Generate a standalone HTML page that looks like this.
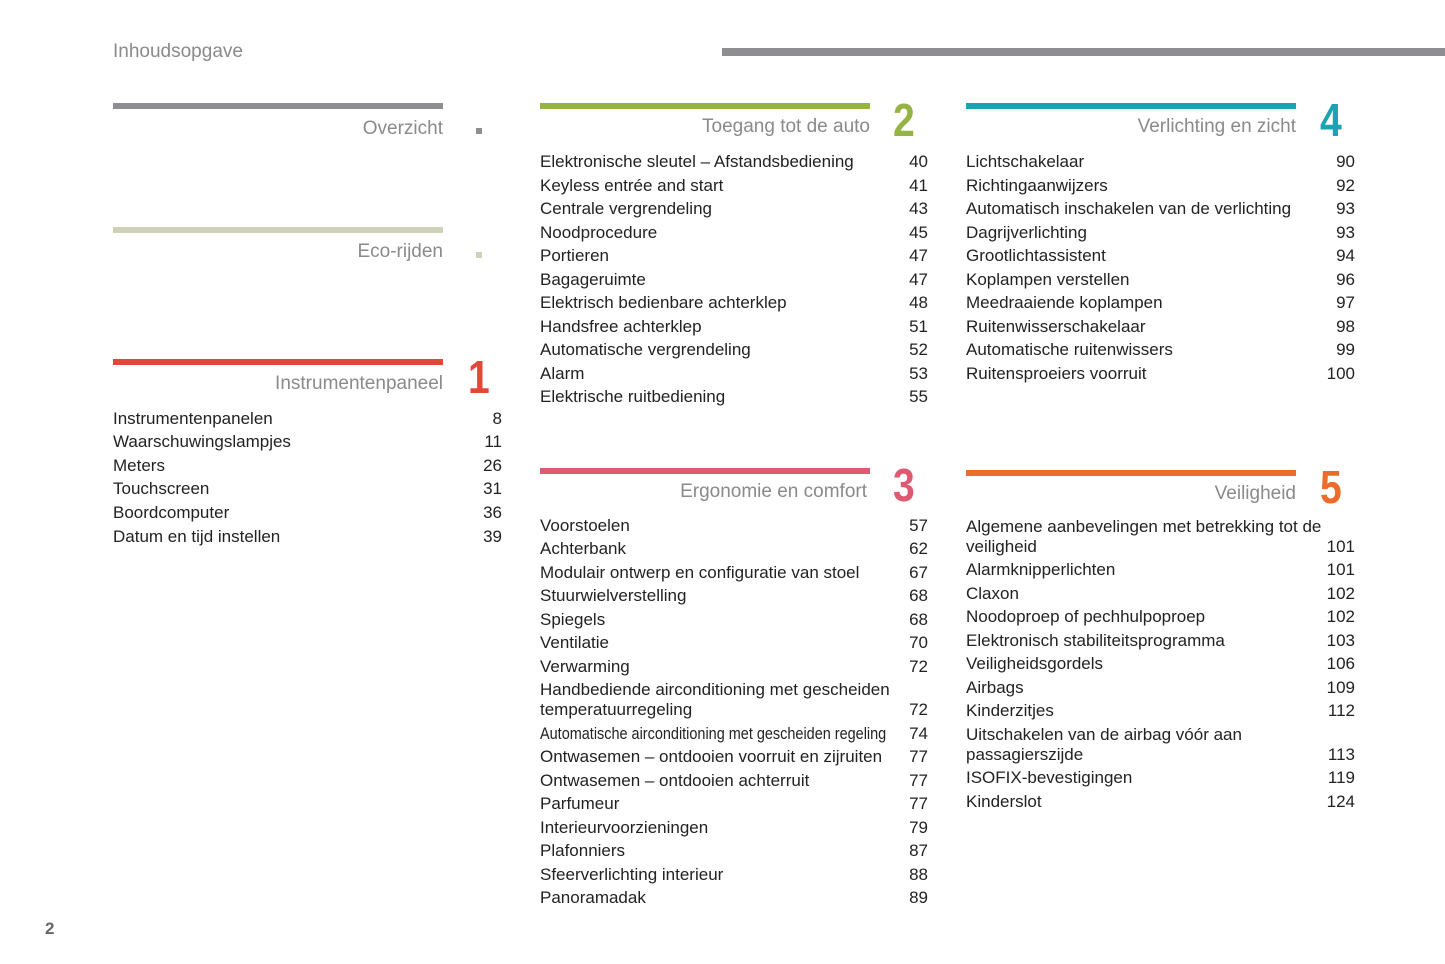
<!DOCTYPE html>
<html><head><meta charset="utf-8"><style>
body{margin:0;width:1445px;height:964px;background:#fff;position:relative;overflow:hidden;font-family:"Liberation Sans",Arial,sans-serif;}
div{position:absolute;white-space:nowrap;}
.r{font-size:17px;line-height:20px;color:#222;transform-origin:0 50%;margin-top:1px;}
.n{font-size:17px;line-height:20px;color:#222;text-align:right;width:60px;margin-top:1px;}
.t{font-size:19px;line-height:22px;color:#8a8a8a;text-align:right;width:320px;}
.b{height:6px;width:330px;}
.big{font-size:46px;font-weight:bold;line-height:40px;transform:scaleX(.85);transform-origin:0 50%;}
</style></head><body>
<div style="left:113px;top:41px;font-size:19px;color:#8a8a8a;">Inhoudsopgave</div>
<div style="left:722px;top:48px;width:723px;height:8px;background:#8e8d92"></div>

<div class="b" style="left:113px;top:103px;background:#8e8d92"></div>
<div class="t" style="left:123px;top:118px">Overzicht</div>
<div style="left:476px;top:128px;width:6px;height:6px;background:#8e8d92"></div>
<div class="b" style="left:113px;top:227px;background:#cfd1b8"></div>
<div class="t" style="left:123px;top:241px">Eco-rijden</div>
<div style="left:476px;top:252px;width:6px;height:6px;background:#cfd1b8"></div>
<div class="b" style="left:113px;top:359px;background:#e2483a"></div>
<div class="t" style="left:123px;top:373px">Instrumentenpaneel</div>
<div class="big" style="left:468px;top:357px;color:#e2483a">1</div>

<div class="r" style="left:113px;top:408px">Instrumentenpanelen</div><div class="n" style="left:442px;top:408px">8</div>
<div class="r" style="left:113px;top:431px">Waarschuwingslampjes</div><div class="n" style="left:442px;top:431px">11</div>
<div class="r" style="left:113px;top:455px">Meters</div><div class="n" style="left:442px;top:455px">26</div>
<div class="r" style="left:113px;top:478px">Touchscreen</div><div class="n" style="left:442px;top:478px">31</div>
<div class="r" style="left:113px;top:502px">Boordcomputer</div><div class="n" style="left:442px;top:502px">36</div>
<div class="r" style="left:113px;top:526px">Datum en tijd instellen</div><div class="n" style="left:442px;top:526px">39</div>

<div class="b" style="left:540px;top:103px;background:#96b345"></div>
<div class="t" style="left:550px;top:116px">Toegang tot de auto</div>
<div class="big" style="left:893px;top:100px;color:#96b345">2</div>
<div class="r" style="left:540px;top:151px">Elektronische sleutel – Afstandsbediening</div><div class="n" style="left:868px;top:151px">40</div>
<div class="r" style="left:540px;top:175px">Keyless entrée and start</div><div class="n" style="left:868px;top:175px">41</div>
<div class="r" style="left:540px;top:198px">Centrale vergrendeling</div><div class="n" style="left:868px;top:198px">43</div>
<div class="r" style="left:540px;top:222px">Noodprocedure</div><div class="n" style="left:868px;top:222px">45</div>
<div class="r" style="left:540px;top:245px">Portieren</div><div class="n" style="left:868px;top:245px">47</div>
<div class="r" style="left:540px;top:269px">Bagageruimte</div><div class="n" style="left:868px;top:269px">47</div>
<div class="r" style="left:540px;top:292px">Elektrisch bedienbare achterklep</div><div class="n" style="left:868px;top:292px">48</div>
<div class="r" style="left:540px;top:316px">Handsfree achterklep</div><div class="n" style="left:868px;top:316px">51</div>
<div class="r" style="left:540px;top:339px">Automatische vergrendeling</div><div class="n" style="left:868px;top:339px">52</div>
<div class="r" style="left:540px;top:363px">Alarm</div><div class="n" style="left:868px;top:363px">53</div>
<div class="r" style="left:540px;top:386px">Elektrische ruitbediening</div><div class="n" style="left:868px;top:386px">55</div>

<div class="b" style="left:540px;top:468px;background:#dd5a72"></div>
<div class="t" style="left:547px;top:481px">Ergonomie en comfort</div>
<div class="big" style="left:893px;top:465px;color:#dd5a72">3</div>
<div class="r" style="left:540px;top:515px">Voorstoelen</div><div class="n" style="left:868px;top:515px">57</div>
<div class="r" style="left:540px;top:538px">Achterbank</div><div class="n" style="left:868px;top:538px">62</div>
<div class="r" style="left:540px;top:562px">Modulair ontwerp en configuratie van stoel</div><div class="n" style="left:868px;top:562px">67</div>
<div class="r" style="left:540px;top:585px">Stuurwielverstelling</div><div class="n" style="left:868px;top:585px">68</div>
<div class="r" style="left:540px;top:609px">Spiegels</div><div class="n" style="left:868px;top:609px">68</div>
<div class="r" style="left:540px;top:632px">Ventilatie</div><div class="n" style="left:868px;top:632px">70</div>
<div class="r" style="left:540px;top:656px">Verwarming</div><div class="n" style="left:868px;top:656px">72</div>
<div class="r" style="left:540px;top:679px">Handbediende airconditioning met gescheiden</div>
<div class="r" style="left:540px;top:699px">temperatuurregeling</div><div class="n" style="left:868px;top:699px">72</div>
<div class="r" style="left:540px;top:723px;transform:scaleX(.85)">Automatische airconditioning met gescheiden regeling</div><div class="n" style="left:868px;top:723px">74</div>
<div class="r" style="left:540px;top:746px">Ontwasemen – ontdooien voorruit en zijruiten</div><div class="n" style="left:868px;top:746px">77</div>
<div class="r" style="left:540px;top:770px">Ontwasemen – ontdooien achterruit</div><div class="n" style="left:868px;top:770px">77</div>
<div class="r" style="left:540px;top:793px">Parfumeur</div><div class="n" style="left:868px;top:793px">77</div>
<div class="r" style="left:540px;top:817px">Interieurvoorzieningen</div><div class="n" style="left:868px;top:817px">79</div>
<div class="r" style="left:540px;top:840px">Plafonniers</div><div class="n" style="left:868px;top:840px">87</div>
<div class="r" style="left:540px;top:864px">Sfeerverlichting interieur</div><div class="n" style="left:868px;top:864px">88</div>
<div class="r" style="left:540px;top:887px">Panoramadak</div><div class="n" style="left:868px;top:887px">89</div>

<div class="b" style="left:966px;top:103px;background:#1ba3b4"></div>
<div class="t" style="left:976px;top:116px">Verlichting en zicht</div>
<div class="big" style="left:1320px;top:100px;color:#1ba3b4">4</div>
<div class="r" style="left:966px;top:151px">Lichtschakelaar</div><div class="n" style="left:1295px;top:151px">90</div>
<div class="r" style="left:966px;top:175px">Richtingaanwijzers</div><div class="n" style="left:1295px;top:175px">92</div>
<div class="r" style="left:966px;top:198px">Automatisch inschakelen van de verlichting</div><div class="n" style="left:1295px;top:198px">93</div>
<div class="r" style="left:966px;top:222px">Dagrijverlichting</div><div class="n" style="left:1295px;top:222px">93</div>
<div class="r" style="left:966px;top:245px">Grootlichtassistent</div><div class="n" style="left:1295px;top:245px">94</div>
<div class="r" style="left:966px;top:269px">Koplampen verstellen</div><div class="n" style="left:1295px;top:269px">96</div>
<div class="r" style="left:966px;top:292px">Meedraaiende koplampen</div><div class="n" style="left:1295px;top:292px">97</div>
<div class="r" style="left:966px;top:316px">Ruitenwisserschakelaar</div><div class="n" style="left:1295px;top:316px">98</div>
<div class="r" style="left:966px;top:339px">Automatische ruitenwissers</div><div class="n" style="left:1295px;top:339px">99</div>
<div class="r" style="left:966px;top:363px">Ruitensproeiers voorruit</div><div class="n" style="left:1295px;top:363px">100</div>

<div class="b" style="left:966px;top:470px;background:#ec6c2c"></div>
<div class="t" style="left:976px;top:483px">Veiligheid</div>
<div class="big" style="left:1320px;top:467px;color:#ec6c2c">5</div>
<div class="r" style="left:966px;top:516px">Algemene aanbevelingen met betrekking tot de</div>
<div class="r" style="left:966px;top:536px">veiligheid</div><div class="n" style="left:1295px;top:536px">101</div>
<div class="r" style="left:966px;top:559px">Alarmknipperlichten</div><div class="n" style="left:1295px;top:559px">101</div>
<div class="r" style="left:966px;top:583px">Claxon</div><div class="n" style="left:1295px;top:583px">102</div>
<div class="r" style="left:966px;top:606px">Noodoproep of pechhulpoproep</div><div class="n" style="left:1295px;top:606px">102</div>
<div class="r" style="left:966px;top:630px">Elektronisch stabiliteitsprogramma</div><div class="n" style="left:1295px;top:630px">103</div>
<div class="r" style="left:966px;top:653px">Veiligheidsgordels</div><div class="n" style="left:1295px;top:653px">106</div>
<div class="r" style="left:966px;top:677px">Airbags</div><div class="n" style="left:1295px;top:677px">109</div>
<div class="r" style="left:966px;top:700px">Kinderzitjes</div><div class="n" style="left:1295px;top:700px">112</div>
<div class="r" style="left:966px;top:724px">Uitschakelen van de airbag vóór aan</div>
<div class="r" style="left:966px;top:744px">passagierszijde</div><div class="n" style="left:1295px;top:744px">113</div>
<div class="r" style="left:966px;top:767px">ISOFIX-bevestigingen</div><div class="n" style="left:1295px;top:767px">119</div>
<div class="r" style="left:966px;top:791px">Kinderslot</div><div class="n" style="left:1295px;top:791px">124</div>

<div style="left:45px;top:919px;font-size:17px;font-weight:bold;color:#666">2</div>
</body></html>
